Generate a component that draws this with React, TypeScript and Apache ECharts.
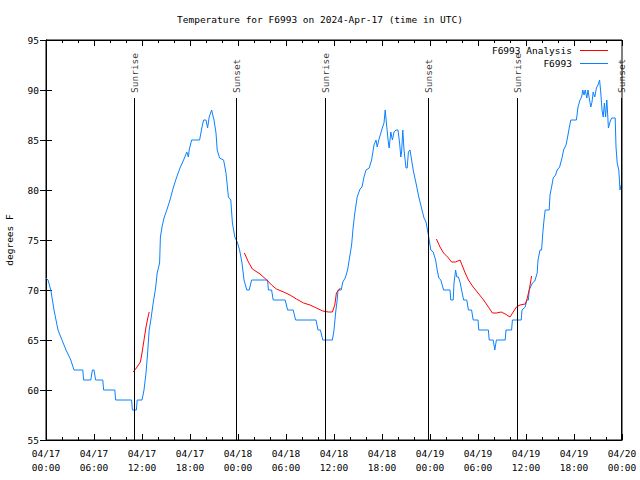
import React, { useEffect, useRef } from "react";
import * as echarts from "echarts";

// Hours since 2024-04-17 00:00 UTC, temperature in °F
const observed: [number, number][] = [
  [0, 71.2], [0.25, 71], [0.6, 70], [1.0, 68], [1.5, 66], [2.0, 65], [2.5, 64], [3.1, 63],
  [3.5, 62], [4.6, 62], [4.7, 61], [5.6, 61], [5.8, 62], [6.0, 62], [6.2, 61], [7.1, 61],
  [7.2, 60], [8.6, 60], [8.7, 59], [10.7, 59], [10.8, 58], [11.3, 58], [11.4, 59], [12.0, 59],
  [12.25, 60], [12.5, 61.7], [12.7, 63.7], [12.9, 66], [13.1, 67], [13.4, 68.7], [13.7, 70.2],
  [13.9, 71.7], [14.2, 72.7], [14.3, 75.3], [14.5, 76.3], [14.75, 77.2], [15.1, 78], [15.5, 79],
  [15.9, 80.2], [16.3, 81.2], [16.75, 82.2], [17.2, 83], [17.6, 83.8], [17.8, 83.3], [17.9, 84],
  [18.2, 85], [19.2, 85], [19.5, 86.3], [19.7, 87], [20.0, 87], [20.2, 86.2], [20.4, 87.3],
  [20.7, 88], [21.0, 87], [21.25, 85.7], [21.4, 84], [21.7, 83.2], [22.2, 83], [22.5, 81.7],
  [22.8, 79.3], [23.1, 79], [23.3, 76.7], [23.6, 75.3], [23.9, 74.8], [24.2, 74], [24.5, 72.7],
  [24.75, 71], [25.1, 70], [25.4, 70], [25.7, 71], [27.7, 71], [27.8, 70], [28.2, 70], [28.4, 69],
  [29.9, 69], [30.2, 68], [30.9, 68], [31.2, 67], [33.75, 67], [34.0, 66], [34.3, 66], [34.6, 65],
  [35.8, 65], [36.0, 66], [36.2, 67.7], [36.4, 69], [36.5, 70], [36.9, 70], [37.1, 70.8],
  [37.4, 71.2], [37.7, 72], [37.9, 73], [38.2, 74.5], [38.4, 76.3], [38.6, 77.7], [38.9, 79.3],
  [39.25, 80.1], [39.5, 80.3], [39.75, 81.3], [40.0, 82], [40.4, 82.2], [40.7, 83], [41.0, 84.5],
  [41.25, 85], [41.4, 84.3], [41.6, 85], [42.0, 86.1], [42.25, 86.7], [42.4, 88], [42.55, 86.7],
  [42.8, 84.7], [42.9, 84.2], [43.1, 85.8], [43.3, 85], [43.5, 85.8], [43.75, 86], [44.0, 86],
  [44.2, 84.7], [44.35, 83.3], [44.45, 83.8], [44.6, 86], [44.75, 84], [45.0, 82.2], [45.15, 82.2],
  [45.3, 83.8], [45.5, 84], [45.7, 83], [45.9, 82], [46.3, 80.5], [46.6, 79.3], [47.0, 78],
  [47.25, 77.2], [47.5, 76.8], [47.8, 75.5], [48.1, 74], [48.4, 73.8], [48.7, 73], [48.9, 72],
  [49.1, 71.2], [49.35, 71], [49.7, 70], [50.5, 70], [50.6, 69], [50.9, 69], [51.0, 70.7],
  [51.2, 72], [51.35, 71.3], [51.55, 71.3], [51.75, 70.8], [52.0, 69.8], [52.2, 69], [52.6, 69],
  [52.8, 68], [53.2, 68], [53.4, 67], [54.0, 67], [54.1, 66], [55.3, 66], [55.4, 65], [55.9, 65],
  [56.1, 64], [56.3, 65], [57.4, 65], [57.5, 66], [58.2, 66], [58.3, 67], [59.4, 67], [59.5, 68],
  [59.9, 68.3], [60.1, 69], [60.3, 69], [60.4, 70], [60.8, 70.7], [61.1, 70.9], [61.4, 71.7],
  [61.5, 73], [61.75, 74], [61.95, 74], [62.1, 75.7], [62.25, 77], [62.4, 78], [62.9, 78],
  [63.0, 79.5], [63.2, 80.3], [63.4, 81.2], [63.7, 81.5], [63.9, 82], [64.2, 82.3], [64.5, 83.2],
  [64.7, 84], [65.0, 84.5], [65.2, 85.3], [65.4, 86.2], [65.6, 87], [66.3, 87], [66.5, 88.3],
  [66.75, 89], [66.95, 89.3], [67.1, 90], [67.25, 89.5], [67.4, 90], [67.6, 89.2], [67.75, 90],
  [67.9, 89.2], [68.1, 88.3], [68.25, 88.8], [68.4, 89.8], [68.6, 89.3], [68.8, 90.2], [69.0, 90.5],
  [69.2, 91], [69.35, 89.7], [69.5, 88], [69.65, 87.3], [69.8, 88.7], [69.95, 87.3], [70.1, 89],
  [70.2, 87.7], [70.3, 86.2], [70.5, 86.8], [70.7, 87.2], [71.15, 87.2], [71.25, 84.3],
  [71.4, 82.7], [71.6, 82], [71.75, 80], [71.9, 80.5],
];

const analysisMorning1: [number, number][] = [
  [10.9, 61.8], [11.3, 62.2], [11.8, 62.8], [12.0, 63.7], [12.25, 65], [12.5, 66.3],
  [12.75, 67.3], [12.9, 67.8],
];
const analysisNight1: [number, number][] = [
  [24.8, 73.7], [25.3, 72.8], [25.8, 72.1], [26.75, 71.6], [27.6, 71], [28.2, 70.5],
  [28.8, 70.1], [29.7, 69.8], [30.5, 69.5], [31.3, 69.1], [32.2, 68.7], [33.0, 68.5],
  [33.8, 68.2], [34.6, 67.9], [35.3, 67.8], [35.8, 67.8], [36.1, 68.5], [36.3, 69.7],
  [36.5, 69.9], [36.8, 70.2],
];
const analysisNight2: [number, number][] = [
  [48.8, 75.1], [49.25, 74.3], [49.7, 73.7], [50.2, 73.3], [50.7, 72.8], [51.2, 72.8],
  [51.75, 73], [52.0, 72.5], [52.4, 71.7], [52.8, 71], [53.4, 70.3], [54.0, 69.7], [54.7, 69],
  [55.3, 68.3], [55.8, 67.7], [56.3, 67.7], [56.9, 67.8], [57.4, 67.6], [58.0, 67.3],
  [58.4, 67.8], [58.8, 68.3], [59.25, 68.5], [59.9, 68.6], [60.1, 69], [60.4, 70], [60.7, 71.4],
];

const eventHours = [11, 23.75, 34.875, 47.75, 58.875, 71.9];
const eventNames = ["Sunrise", "Sunset", "Sunrise", "Sunset", "Sunrise", "Sunset"];

const xTickLabels = [
  "04/17\n00:00", "04/17\n06:00", "04/17\n12:00", "04/17\n18:00",
  "04/18\n00:00", "04/18\n06:00", "04/18\n12:00", "04/18\n18:00",
  "04/19\n00:00", "04/19\n06:00", "04/19\n12:00", "04/19\n18:00",
  "04/20\n00:00",
];

const FONT = "DejaVu Sans Mono";
const RED = "#ff0000";
const BLUE = "#0a80ff";

export default function App() {
  const ref = useRef<HTMLDivElement>(null);
  useEffect(() => {
    if (!ref.current) return;
    const chart = echarts.init(ref.current, null, { renderer: "svg" });
    const analysis: any[] = [
      ...analysisMorning1,
      [13.0, null],
      ...analysisNight1,
      [37.0, null],
      ...analysisNight2,
    ];
    const lineTop = 89.2;
    const labelY = 89.7;
    const xCommon = {
      type: "value",
      min: 0,
      max: 72,
      interval: 6,
      axisLine: { show: true, lineStyle: { color: "#000", width: 1 } },
      axisTick: { show: true, inside: true, length: 6, lineStyle: { color: "#000" } },
      minorTick: { show: true, splitNumber: 3, length: 3, lineStyle: { color: "#000" } },
      splitLine: { show: false },
    };
    const yCommon = {
      type: "value",
      min: 55,
      max: 95,
      interval: 5,
      axisLine: { show: true, lineStyle: { color: "#000", width: 1 } },
      axisTick: { show: true, inside: true, length: 6, lineStyle: { color: "#000" } },
      splitLine: { show: false },
    };
    chart.setOption({
      animation: false,
      backgroundColor: "#fff",
      textStyle: { fontFamily: FONT },
      title: {
        text: "Temperature for F6993 on 2024-Apr-17 (time in UTC)",
        left: "center",
        top: 9,
        textStyle: { fontFamily: FONT, fontSize: 9.5, fontWeight: "normal", color: "#000" },
      },
      legend: {
        data: [
          { name: "F6993 Analysis", icon: "rect", itemStyle: { color: RED } },
          { name: "F6993", icon: "rect", itemStyle: { color: BLUE } },
        ],
        orient: "vertical",
        right: 27,
        top: 40,
        align: "right",
        itemWidth: 28,
        itemHeight: 1,
        itemGap: 2,
        textStyle: { fontFamily: FONT, fontSize: 9.5, color: "#000", padding: [0, 3, 0, 0], lineHeight: 11 },
      },
      grid: {
        left: 46,
        right: 18,
        top: 40,
        bottom: 40,
        show: true,
        borderColor: "#000",
        borderWidth: 1,
        backgroundColor: "transparent",
        containLabel: false,
        outerBoundsMode: "none",
      },
      xAxis: [
        {
          ...xCommon,
          position: "bottom",
          axisLabel: {
            show: true,
            margin: 6,
            fontFamily: FONT,
            fontSize: 9.5,
            color: "#000",
            lineHeight: 14,
            showMinLabel: true,
            showMaxLabel: true,
            formatter: (v: number) => xTickLabels[Math.round(v / 6)] ?? "",
          },
        },
        { ...xCommon, position: "top", axisLabel: { show: false } },
      ],
      yAxis: [
        {
          ...yCommon,
          position: "left",
          name: "degrees F",
          nameLocation: "middle",
          nameGap: 32,
          nameRotate: 90,
          nameTextStyle: { fontFamily: FONT, fontSize: 9.5, color: "#000" },
          axisLabel: { show: true, margin: 7, fontFamily: FONT, fontSize: 9.5, color: "#000" },
        },
        { ...yCommon, position: "right", axisLabel: { show: false } },
      ],
      series: [
        {
          name: "events",
          type: "scatter",
          xAxisIndex: 0,
          yAxisIndex: 0,
          symbolSize: 0,
          silent: true,
          data: eventHours.map((h) => [h, labelY]),
          label: {
            show: true,
            position: "inside",
            rotate: 90,
            align: "left",
            verticalAlign: "middle",
            fontFamily: FONT,
            fontSize: 9.5,
            color: "#000",
            formatter: (p: any) => eventNames[p.dataIndex],
          },
          markLine: {
            silent: true,
            symbol: ["none", "none"],
            label: { show: false },
            lineStyle: { color: "#000", width: 1, type: "solid" },
            data: eventHours.map((h) => [
              { coord: [h, 55] },
              { coord: [h, lineTop] },
            ]),
          },
          z: 1,
        },
        {
          name: "F6993 Analysis",
          type: "line",
          data: analysis,
          showSymbol: false,
          symbol: "none",
          connectNulls: false,
          lineStyle: { color: RED, width: 1 },
          itemStyle: { color: RED },
          z: 3,
        },
        {
          name: "F6993",
          type: "line",
          data: observed,
          showSymbol: false,
          symbol: "none",
          lineStyle: { color: BLUE, width: 1 },
          itemStyle: { color: BLUE },
          z: 2,
        },
      ],
    });
    return () => chart.dispose();
  }, []);
  return <div ref={ref} style={{ width: 640, height: 480, position: "absolute", left: 0, top: 0 }} />;
}
